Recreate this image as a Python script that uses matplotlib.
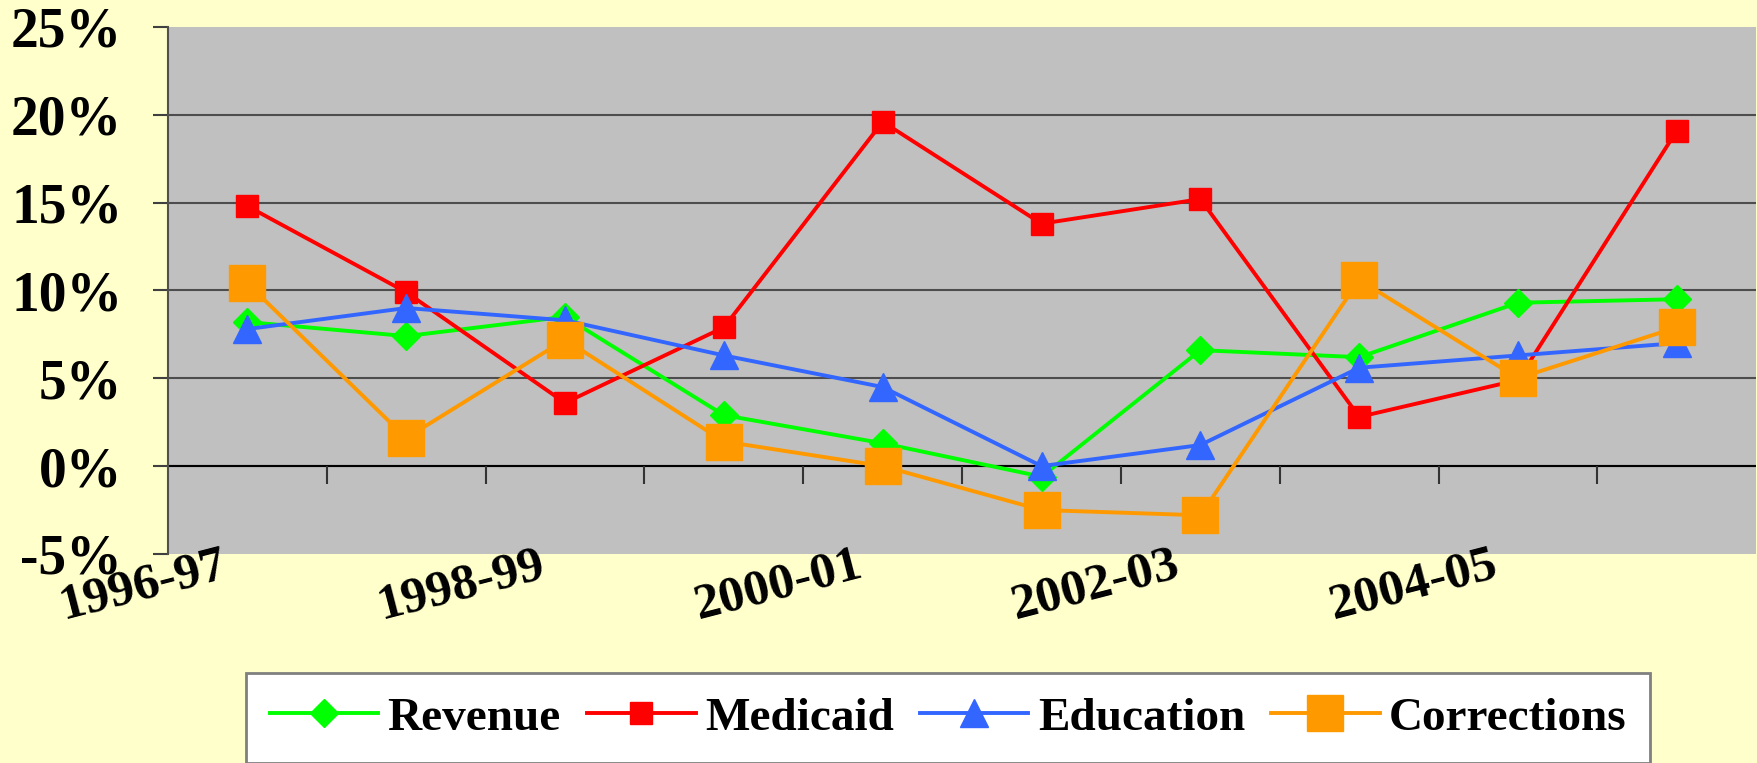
import matplotlib
matplotlib.use("Agg")
import matplotlib.pyplot as plt
import numpy as np
from matplotlib.ticker import FuncFormatter
from matplotlib.transforms import ScaledTranslation

# annual growth, percent
years = ["1996-97", "1997-98", "1998-99", "1999-00", "2000-01",
         "2001-02", "2002-03", "2003-04", "2004-05", "2005-06"]
revenue = [8.2, 7.4, 8.5, 2.9, 1.3, -0.6, 6.6, 6.2, 9.3, 9.5]
medicaid = [14.8, 9.9, 3.6, 7.9, 19.6, 13.8, 15.2, 2.8, 4.9, 19.1]
education = [7.8, 9.0, 8.3, 6.3, 4.5, 0.0, 1.2, 5.6, 6.3, 7.0]
corrections = [10.4, 1.6, 7.2, 1.4, 0.0, -2.5, -2.8, 10.6, 5.0, 7.9]

plt.rcParams['font.family'] = ['Liberation Serif', 'DejaVu Serif']
plt.rcParams['font.weight'] = 'bold'

fig = plt.figure(figsize=(17.57, 7.63), dpi=100, facecolor='#FFFFCC')
ax = fig.add_axes([0.0956, 0.274, 0.904, 0.6907])
ax.set_facecolor('#C0C0C0')

x = np.arange(len(years))
ax.plot(x, revenue, color='#00FF00', lw=2.8, marker='D', ms=14, label='Revenue')
ax.plot(x, medicaid, color='#FF0000', lw=2.8, marker='s', ms=16.5, label='Medicaid')
ax.plot(x, education, color='#3366FF', lw=2.8, marker='^', ms=19.5, label='Education')
ax.plot(x, corrections, color='#FF9900', lw=2.8, marker='s', ms=26.5, label='Corrections')

ax.set_xlim(-0.5, len(years) - 0.5)
ax.set_ylim(-5, 25)
ax.set_yticks(np.arange(-5, 26, 5))
ax.yaxis.set_major_formatter(FuncFormatter(lambda v, p: f"{v:.0f}%"))
ax.tick_params(axis='y', length=11, width=1.5, color='#404040', pad=22, labelsize=40)

ax.grid(axis='y', color='#4D4D4D', lw=1.5)
gl = ax.get_ygridlines()
gl[0].set_visible(False)
gl[-1].set_visible(False)
ax.set_axisbelow(True)
ax.axhline(0, color='black', lw=1.5, zorder=1.5)
# category boundary ticks hanging from the zero line
ax.vlines(x[:-1] + 0.5, -1, 0, color='#333333', lw=1.5, zorder=1.5)

ax.set_xticks(x[::2], years[::2])
ax.tick_params(axis='x', length=0, pad=0, labelsize=37)
for lbl in ax.get_xticklabels():
    lbl.set_rotation(14.5)
    lbl.set_ha('right')
    lbl.set_va('top')
    lbl.set_rotation_mode('anchor')
    lbl.set_transform(lbl.get_transform() + ScaledTranslation(-0.27, 0.12, fig.dpi_scale_trans))

for s in ['top', 'right', 'bottom']:
    ax.spines[s].set_visible(False)
ax.spines['left'].set_color('#505050')
ax.spines['left'].set_linewidth(1.5)

leg = fig.legend(loc='upper left', bbox_to_anchor=(246 / 1757, 1 - 673 / 763), ncol=4,
                 fontsize=34, frameon=True, fancybox=False, edgecolor='#808080',
                 facecolor='white', framealpha=1, handlelength=2.3, handletextpad=0.2,
                 columnspacing=0.55, borderpad=0.5, borderaxespad=0)
leg.get_frame().set_linewidth(2)

fig.savefig('out.png', dpi=100, facecolor=fig.get_facecolor())
